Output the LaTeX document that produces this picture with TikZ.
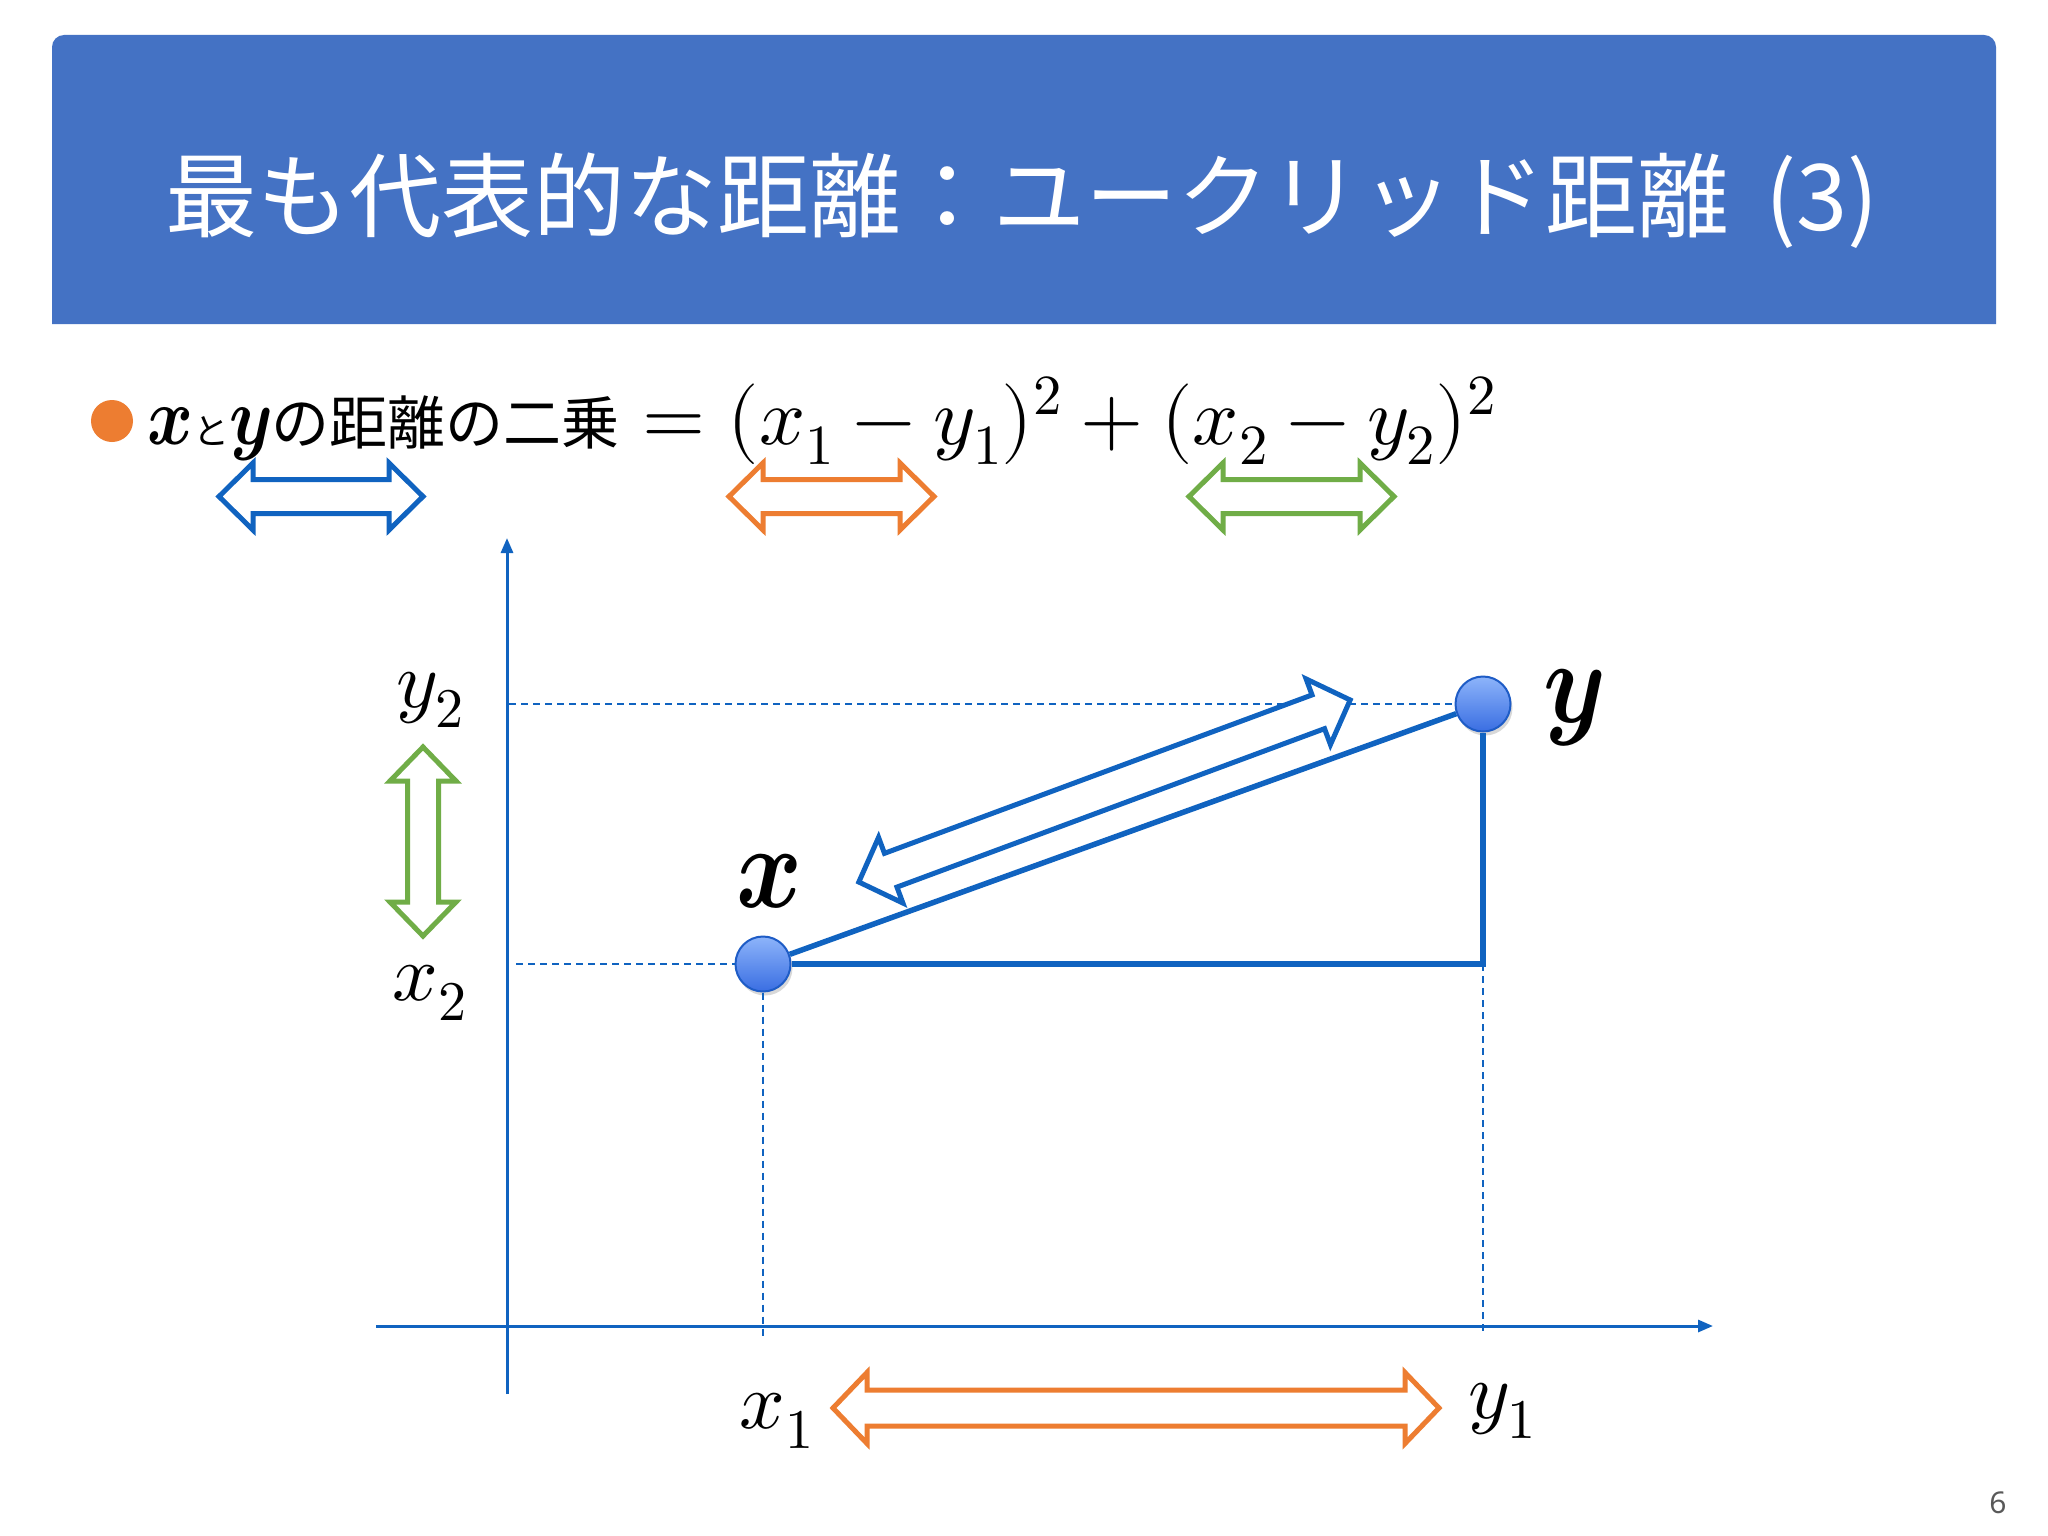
\documentclass[tikz,border=0pt]{standalone}
\usepackage{fontspec}
\usepackage{unicode-math}
\setmathfont{Latin Modern Math}
\newfontfamily\jp{Noto Sans CJK JP}
\newfontfamily\numfont{Noto Sans}
\usepackage{graphicx}
\usetikzlibrary{arrows.meta,shadows}
\definecolor{titleblue}{HTML}{4472C4}
\definecolor{lineblue}{HTML}{1063C0}
\definecolor{aorange}{HTML}{ED7D31}
\definecolor{agreen}{HTML}{70AD47}
\definecolor{ptlight}{HTML}{8DB4FA}
\definecolor{ptdark}{HTML}{3A6EE2}
\definecolor{ptedge}{HTML}{1E5CC6}
\definecolor{pagegray}{HTML}{595959}
\newcommand\bigbold[2]{\scalebox{0.85}[1]{\fontsize{#1}{#1}\selectfont$\symbfit{#2}$}}
\newcommand\dblarrow[7]{%
\begin{scope}[shift={(#2,#3)},rotate=#4]
\draw[blockarrow=#1] (-#5,0) -- ({-#5+34},-#6) -- ({-#5+34},-#7) -- ({#5-34},-#7) -- ({#5-34},-#6) -- (#5,0) -- ({#5-34},#6) -- ({#5-34},#7) -- ({-#5+34},#7) -- ({-#5+34},#6) -- cycle;
\end{scope}}
\tikzset{
  blockarrow/.style={draw=#1, line width=5pt, fill=white, line join=miter},
  axis/.style={draw=lineblue, line width=3pt, -{Triangle[length=15pt,width=12pt]}},
  guide/.style={draw=lineblue, line width=1.9pt, dash pattern=on 7pt off 5pt},
  edge/.style={draw=lineblue, line width=5.5pt},
  pt/.style={circle, minimum size=55pt, inner sep=0pt, draw=ptedge, line width=2pt,
    top color=ptlight, bottom color=ptdark,
    drop shadow={opacity=0.3, shadow xshift=2pt, shadow yshift=-4pt}},
  mlabel/.style={inner sep=0pt, font=\fontsize{80}{80}\selectfont},
}
\begin{document}
\begin{tikzpicture}[x=1pt,y=-1pt]
\useasboundingbox (0,0) rectangle (2048,1536);
\fill[white] (0,0) rectangle (2048,1536);
% title bar
\fill[titleblue] (52,324) [rounded corners=12pt] -- (52,35) -- (1996,35) [sharp corners] -- (1996,324) -- cycle;
\node[anchor=base, text=white, inner sep=0pt, font=\jp\fontsize{92}{92}\selectfont] (title) at (1022,230) {最も代表的な距離：ユークリッド距離 \,(3)};
% bullet line
\node[circle, fill=aorange, minimum size=42pt, inner sep=0pt] (bul) at (112,421) {};
\node[anchor=base west, inner sep=0pt] (jtext) at (147,444) {\bigbold{82}{x}{\jp\fontsize{36}{36}\selectfont と}\bigbold{82}{y}{\jp\fontsize{58}{58}\selectfont の距離の二乗}};
\node[anchor=base west, inner sep=0pt, font=\fontsize{81}{81}\selectfont] (formula) at (642,444) {$=(x_1-y_1)^2+(x_2-y_2)^2$};
% top double arrows
\dblarrow{lineblue}{321}{496.5}{0}{102}{33.5}{17}
\dblarrow{aorange}{831.5}{496.5}{0}{102.5}{33.5}{17}
\dblarrow{agreen}{1291.5}{496.5}{0}{102.5}{33.5}{17}
% axes
\coordinate (yaxb) at (507,1394);
\coordinate (yaxt) at (507,538);
\coordinate (xaxl) at (376,1326);
\coordinate (xaxr) at (1713,1326);
\draw[axis] (yaxb) -- (yaxt);
\draw[axis] (xaxl) -- (xaxr);
% points
\node[pt] (X) at (763,964) {};
\node[pt] (Y) at (1483,704) {};
\coordinate (C) at (1483,964);
\coordinate (y2g) at (509,704);
\coordinate (x2g) at (516,964);
\coordinate (x1g) at (763,1340);
\coordinate (y1g) at (1483,1334);
% guides
\draw[guide] (y2g) -- (Y);
\draw[guide] (x2g) -- (X);
\draw[guide] (X) -- (x1g);
\draw[guide] (C) -- (y1g);
% triangle
\draw[edge] (X) -- (Y);
\draw[edge, line join=miter] (X) -- (C) -- (Y);
% diagonal double arrow
\dblarrow{lineblue}{1104.5}{791}{20.33}{262}{35}{18}
% vertical and bottom arrows
\dblarrow{agreen}{423}{841.5}{90}{94.5}{33}{15.5}
\dblarrow{aorange}{1136}{1408}{0}{303}{35.5}{18}
% labels
\node[mlabel] (ly2) at (430,700) {$y_2$};
\node[mlabel] (lx2) at (430,993) {$x_2$};
\node[mlabel] (lx1) at (777,1421) {$x_1$};
\node[mlabel] (ly1) at (1502,1411) {$y_1$};
\node[inner sep=0pt] (lX) at (770,881) {\bigbold{118}{x}};
\node[inner sep=0pt] (lY) at (1574,708) {\bigbold{118}{y}};
\node[inner sep=0pt, text=pagegray, font=\numfont\fontsize{30}{30}\selectfont] (pg) at (1998,1503) {6};
\end{tikzpicture}
\end{document}
